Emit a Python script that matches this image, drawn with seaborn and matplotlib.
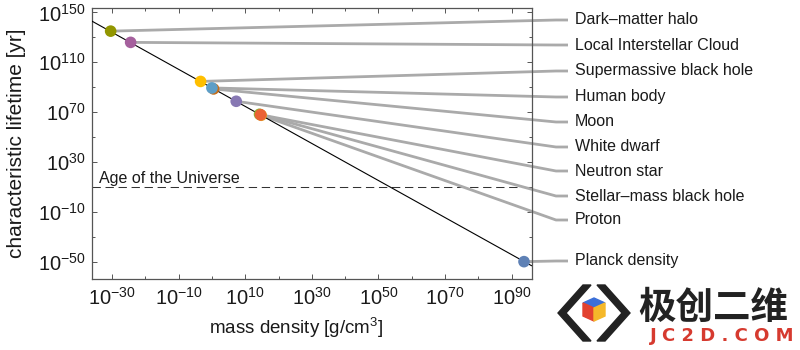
import numpy as np
import pandas as pd
import matplotlib
matplotlib.use("Agg")
import matplotlib.pyplot as plt
import seaborn as sns
from matplotlib.patches import Polygon
from matplotlib.lines import Line2D
from matplotlib.ticker import FixedLocator, FuncFormatter, NullFormatter

# ---------------- data (log10 values) ----------------
objects = ["Planck density", "Proton", "Stellar\u2013mass black hole", "Neutron star",
           "White dwarf", "Moon", "Human body", "Supermassive black hole",
           "Local Interstellar Cloud", "Dark\u2013matter halo"]
log_density = [93.7, 14.8, 14.3, 14.6, 7.3, 0.5, 0.0, -3.4, -24.4, -30.4]      # g/cm^3
log_lifetime = [-49.7, 67.6, 68.4, 68.0, 78.8, 88.7, 89.5, 94.7, 126.0, 135.0]  # yr
point_colors = ["#5E81B5", "#E19C24", "#8FB032", "#EB6235", "#8778B3",
                "#C56E1A", "#5D9EC7", "#FFBF00", "#A5609D", "#929600"]

trend_log_density = [-36.0, 96.0]
trend_log_lifetime = [143.0, -53.0]
age_universe_log_yr = 10.14

x_major_exp = [-30, -10, 10, 30, 50, 70, 90]
x_minor_exp = [-20, 0, 20, 40, 60, 80]
y_major_exp = [150, 110, 70, 30, -10, -50]
y_minor_exp = [130, 90, 50, 10, -30]

# label rows on the right (pixel y from top of the 800x350 figure)
label_rows = {"Dark\u2013matter halo": 20, "Local Interstellar Cloud": 45,
              "Supermassive black hole": 71, "Human body": 97, "Moon": 122,
              "White dwarf": 147, "Neutron star": 171,
              "Stellar\u2013mass black hole": 196, "Proton": 220,
              "Planck density": 261}

# ---------------- style ----------------
sns.set_style("ticks")
plt.rcParams["font.family"] = ["Liberation Sans", "DejaVu Sans"]
plt.rcParams["mathtext.fontset"] = "custom"
plt.rcParams["mathtext.rm"] = "Liberation Sans"
plt.rcParams["mathtext.it"] = "Liberation Sans:italic"
plt.rcParams["mathtext.bf"] = "Liberation Sans:bold"

W, H = 800, 350
fig = plt.figure(figsize=(8, 3.5), dpi=100)
ax_left, ax_right, ax_top, ax_bottom = 92, 532, 8.3, 279
ax = fig.add_axes([ax_left / W, 1 - ax_bottom / H,
                   (ax_right - ax_left) / W, (ax_bottom - ax_top) / H])

df = pd.DataFrame({"object": objects,
                   "density": 10.0 ** np.array(log_density),
                   "lifetime": 10.0 ** np.array(log_lifetime)})
trend = pd.DataFrame({"density": 10.0 ** np.array(trend_log_density),
                      "lifetime": 10.0 ** np.array(trend_log_lifetime)})

ax.set_xscale("log")
ax.set_yscale("log")

sns.lineplot(data=trend, x="density", y="lifetime", color="black", lw=0.8,
             ax=ax, zorder=3)
ax.axhline(10.0 ** age_universe_log_yr, color="#333333", lw=0.75,
           linestyle=(0, (8, 4.5)), zorder=1.5)
sns.scatterplot(data=df, x="density", y="lifetime", hue="object",
                palette=dict(zip(objects, point_colors)), s=70,
                edgecolor="none", legend=False, ax=ax, zorder=5)

ax.set_xlim(10.0 ** -36.0, 10.0 ** 96.1)
ax.set_ylim(10.0 ** -63.6, 10.0 ** 153.3)

fmt = FuncFormatter(lambda v, p: r"$10^{%d}$" % int(round(np.log10(v))))
ax.xaxis.set_major_locator(FixedLocator([10.0 ** e for e in x_major_exp]))
ax.xaxis.set_minor_locator(FixedLocator([10.0 ** e for e in x_minor_exp]))
ax.yaxis.set_major_locator(FixedLocator([10.0 ** e for e in y_major_exp]))
ax.yaxis.set_minor_locator(FixedLocator([10.0 ** e for e in y_minor_exp]))
ax.xaxis.set_major_formatter(fmt)
ax.yaxis.set_major_formatter(fmt)
ax.xaxis.set_minor_formatter(NullFormatter())
ax.yaxis.set_minor_formatter(NullFormatter())

ax.tick_params(which="both", direction="in", top=True, right=True,
               color="#555555", width=0.7)
ax.tick_params(which="major", length=3.6, labelsize=14.5, labelcolor="#1a1a1a")
ax.tick_params(which="minor", length=2.4)
ax.tick_params(axis="y", which="major", pad=4.5)
ax.tick_params(axis="x", which="major", pad=5.5)
for sp in ax.spines.values():
    sp.set_color("#555555")
    sp.set_linewidth(0.9)

ax.set_xlabel(r"mass density [g/cm$^3$]", fontsize=13.5, color="#1a1a1a")
ax.set_ylabel("characteristic lifetime [yr]", fontsize=15, color="#1a1a1a")
ax.xaxis.set_label_coords((296 - ax_left) / (ax_right - ax_left), -0.135)
ax.yaxis.set_label_coords(-0.15, 0.5)

ax.annotate("Age of the Universe", xy=(0.016, 10.0 ** age_universe_log_yr),
            xycoords=ax.get_yaxis_transform(), xytext=(0, 4),
            textcoords="offset pixels", va="baseline", ha="left",
            fontsize=11.5, color="#1a1a1a")

# ---------------- leader lines and labels ----------------
bend_x, end_x, text_x = 556, 568, 575
to_fig = fig.transFigure.inverted()
for name, lx, ly in zip(objects, log_density, log_lifetime):
    row = label_rows[name]
    yf = 1 - row / H
    # marker position in figure fraction via the axes' own data transform
    px0, py0 = to_fig.transform(ax.transData.transform((10.0 ** lx, 10.0 ** ly)))
    leader = Line2D([px0, bend_x / W, end_x / W], [py0, yf, yf],
                    transform=fig.transFigure, color="#AAAAAA", lw=2.0,
                    solid_capstyle="butt", solid_joinstyle="round",
                    zorder=2, clip_on=False)
    ax.add_artist(leader)
    fig.text(text_x / W, yf, name, ha="left", va="center", fontsize=11.5,
             color="#1a1a1a")

# ---------------- watermark ----------------
def px(pts):
    return [(x / W, 1 - y / H) for x, y in pts]

fig.add_artist(Polygon(px([(583, 285), (591, 285), (566, 313), (591, 341),
                           (583, 341), (558, 313)]), closed=True,
                       transform=fig.transFigure, color="#222222"))
fig.add_artist(Polygon(px([(597, 285), (605, 285), (630, 313), (605, 341),
                           (597, 341), (622, 313)]), closed=True,
                       transform=fig.transFigure, color="#222222"))
fig.add_artist(Polygon(px([(594, 298), (605, 303), (594, 308), (583, 303)]),
                       transform=fig.transFigure, color="#3B6FD8"))
fig.add_artist(Polygon(px([(583, 303), (594, 308), (594, 321), (583, 316)]),
                       transform=fig.transFigure, color="#E2412F"))
fig.add_artist(Polygon(px([(594, 308), (605, 303), (605, 316), (594, 321)]),
                       transform=fig.transFigure, color="#F5B82A"))
fig.text(638 / W, 1 - 307 / H, "极创二维", family=["Noto Sans CJK SC"],
         fontweight="bold", fontsize=27, va="center", ha="left",
         color="#222222")
fig.text(722 / W, 1 - 336 / H, "J C 2 D . C O M", family=["DejaVu Sans"],
         fontweight="bold", fontsize=13, va="center", ha="center",
         color="#D63A2F")

fig.savefig("out.png", dpi=100)
